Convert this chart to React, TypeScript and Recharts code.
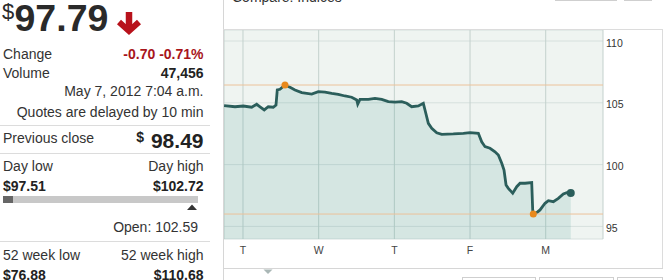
import React from 'react';
import { AreaChart, Area, XAxis, YAxis, CartesianGrid, ReferenceLine, ReferenceDot } from 'recharts';

const dayTicks = [1, 2, 3, 4, 5];
const dayLabels = ['T', 'W', 'T', 'F', 'M'];
const priceTicks = [95, 100, 105, 110];

const times = [
  0.75, 0.894, 1.004, 1.115, 1.181, 1.225, 1.281, 1.334, 1.4, 1.436,
  1.453, 1.489, 1.555, 1.621, 1.687, 1.776, 1.908, 1.995, 2.084, 2.172,
  2.259, 2.348, 2.436, 2.503, 2.516, 2.546, 2.656, 2.744, 2.833, 2.92,
  3.009, 3.097, 3.163, 3.229, 3.317, 3.383, 3.405, 3.449, 3.494, 3.56,
  3.626, 3.779, 3.911, 4.0, 4.11, 4.154, 4.198, 4.264, 4.33, 4.374,
  4.419, 4.449, 4.476, 4.506, 4.564, 4.617, 4.661, 4.727, 4.815, 4.828,
  4.836, 4.881, 4.925, 4.991, 5.035, 5.101, 5.167, 5.233, 5.278, 5.331,
];
const prices = [
  104.77, 104.68, 104.74, 104.64, 104.88, 104.68, 104.42, 104.68, 104.64, 104.82,
  106.04, 106.09, 106.44, 106.25, 106.04, 105.82, 105.71, 105.9, 105.87, 105.77,
  105.69, 105.55, 105.45, 105.23, 104.9, 105.28, 105.28, 105.36, 105.28, 105.09,
  105.06, 105.09, 104.96, 104.68, 104.74, 104.96, 104.42, 103.34, 102.94, 102.58,
  102.45, 102.48, 102.53, 102.58, 102.53, 101.85, 101.45, 101.32, 101.04, 100.78,
  100.11, 99.56, 98.35, 98.08, 97.68, 98.21, 98.49, 98.49, 98.54, 96.33,
  96.0, 96.11, 96.33, 96.87, 97.08, 97.0, 97.27, 97.62, 97.73, 97.7,
];

const rows = times.map((t, i) => ({ t, price: prices[i] }));
const maxP = Math.max(...prices);
const minP = Math.min(...prices);
const maxIdx = prices.indexOf(maxP);
const minIdx = prices.indexOf(minP);
const lastIdx = prices.length - 1;

const FONT = 'Arial, "Liberation Sans", sans-serif';

const YTick = (props: any) => {
  const { x, y, payload } = props;
  return (
    <text x={x} y={y} dy={5.5} fill="#333" fontSize={10.5} fontFamily={FONT} textAnchor="start">
      {payload.value}
    </text>
  );
};

const XTick = (props: any) => {
  const { x, y, payload } = props;
  const idx = dayTicks.indexOf(payload.value);
  return (
    <text x={x} y={y} dy={15} fill="#444" fontSize={10.5} fontFamily={FONT} textAnchor="middle">
      {dayLabels[idx]}
    </text>
  );
};

const Txt = (props: any) => {
  const { top, left = 0, width, align = 'left', size = 14, bold = false, color = '#333', lh = 16, children } = props;
  return (
    <div
      style={{
        position: 'absolute',
        top,
        left,
        width,
        textAlign: align,
        fontSize: size,
        fontWeight: bold ? 'bold' : 'normal',
        color,
        lineHeight: `${lh}px`,
        whiteSpace: 'nowrap',
        fontFamily: FONT,
      }}
    >
      {children}
    </div>
  );
};

const Line = (props: any) => (
  <div style={{ position: 'absolute', background: props.color || '#dcdcdc', left: props.left, top: props.top, width: props.width, height: props.height }} />
);

export default function App() {
  return (
    <div style={{ position: 'fixed', left: 0, top: 0, width: 669, height: 280, overflow: 'hidden', background: '#fff', fontFamily: FONT }}>
      {/* Left quote panel */}
      <Txt top={1} left={2} size={22} color="#2a2a2a" lh={22}>$</Txt>
      <Txt top={0} left={14.5} size={37.5} bold color="#2a2a2a" lh={36}>97.79</Txt>
      <svg style={{ position: 'absolute', left: 114, top: 10 }} width={30} height={26}>
        <line x1={15} y1={2} x2={15} y2={19} stroke="#b8121b" strokeWidth={6.5} />
        <polyline points="5,12 15,21 25,12" fill="none" stroke="#b8121b" strokeWidth={6} strokeLinejoin="miter" />
      </svg>

      <Txt top={45.5} left={3}>Change</Txt>
      <Txt top={45.5} left={0} width={203.5} align="right" bold color="#a8151b">-0.70 -0.71%</Txt>
      <Txt top={64.6} left={3}>Volume</Txt>
      <Txt top={64.6} left={0} width={203.5} align="right" bold color="#222">47,456</Txt>
      <Txt top={83.1} left={0} width={203.5} align="right">May 7, 2012 7:04 a.m.</Txt>
      <Txt top={103.6} left={0} width={203.5} align="right">Quotes are delayed by 10 min</Txt>
      <Line left={0} top={124.5} width={210} height={1} />

      <Txt top={129.8} left={3}>Previous close</Txt>
      <Txt top={129} left={0} width={144} align="right" bold color="#222">$</Txt>
      <Txt top={129} left={0} width={203.5} align="right" size={21} bold color="#222" lh={24}>98.49</Txt>
      <Line left={0} top={153} width={210} height={1} />

      <Txt top={158.1} left={3}>Day low</Txt>
      <Txt top={158.1} left={0} width={203.5} align="right">Day high</Txt>
      <Txt top={178.4} left={3} bold color="#222">$97.51</Txt>
      <Txt top={178.4} left={0} width={203.5} align="right" bold color="#222">$102.72</Txt>
      <Line left={3} top={196} width={195} height={7} color="#c8c8c8" />
      <Line left={3} top={196} width={10} height={7} color="#666" />
      <svg style={{ position: 'absolute', left: 186, top: 204 }} width={12} height={7}>
        <polygon points="1,6 6,0.5 11,6" fill="#333" />
      </svg>
      <Txt top={218.6} left={0} width={198} align="right">Open: 102.59</Txt>
      <Line left={0} top={240.5} width={210} height={1} />

      <Txt top={247.1} left={3}>52 week low</Txt>
      <Txt top={247.1} left={0} width={203.5} align="right">52 week high</Txt>
      <Txt top={266.6} left={3} bold color="#222">$76.88</Txt>
      <Txt top={266.6} left={0} width={203.5} align="right" bold color="#222">$110.68</Txt>

      {/* Chart panel chrome */}
      <Txt top={-11} left={232} color="#333">Compare: Indices</Txt>
      <div style={{ position: 'absolute', left: 555, top: -20, width: 62, height: 21, border: '1px solid #cfcfcf', boxSizing: 'border-box' }} />
      <div style={{ position: 'absolute', left: 624, top: -20, width: 28, height: 21, border: '1px solid #cfcfcf', boxSizing: 'border-box', background: '#f3f3f3' }} />
      <Line left={223} top={0} width={1} height={280} color="#d6d6d6" />
      <Line left={223} top={29} width={440} height={1} color="#dcdcdc" />
      <Line left={662} top={29} width={1} height={240} color="#dcdcdc" />
      <Line left={223} top={268} width={440} height={1} color="#d6d6d6" />
      <svg style={{ position: 'absolute', left: 263, top: 269 }} width={10} height={6}>
        <polygon points="0.5,0.5 9.5,0.5 5,5" fill="#aab7b6" />
      </svg>
      <div style={{ position: 'absolute', left: 462, top: 277, width: 74, height: 20, border: '1px solid #cfcfcf', boxSizing: 'border-box' }} />
      <div style={{ position: 'absolute', left: 539, top: 277, width: 75, height: 20, border: '1px solid #cfcfcf', boxSizing: 'border-box' }} />
      <div style={{ position: 'absolute', left: 617, top: 277, width: 46, height: 20, border: '1px solid #cfcfcf', boxSizing: 'border-box' }} />

      <div style={{ position: 'absolute', left: 224, top: 30 }}>
        <AreaChart width={438} height={238} data={rows} margin={{ top: 0, right: 0, bottom: 0, left: 0 }}>
          <CartesianGrid vertical={false} stroke="#d6e0dd" fill="#eff4f1" />
          <CartesianGrid horizontal={false} stroke="#c3d1cd" />
          <XAxis
            dataKey="t"
            type="number"
            domain={[0.749, 5.757]}
            ticks={dayTicks}
            allowDataOverflow
            axisLine={false}
            tickLine={false}
            tickSize={0}
            tickMargin={0}
            height={29}
            tick={<XTick />}
            interval={0}
          />
          <YAxis
            orientation="right"
            type="number"
            domain={[93.98, 110.89]}
            ticks={priceTicks}
            allowDataOverflow
            axisLine={false}
            tickLine={false}
            tickSize={0}
            tickMargin={3}
            width={59}
            tick={<YTick />}
            interval={0}
          />
          <Area
            type="linear"
            dataKey="price"
            stroke="#2b5e5b"
            strokeWidth={2.8}
            fill="#2a8a85"
            fillOpacity={0.13}
            dot={false}
            activeDot={false}
            isAnimationActive={false}
          />
          <ReferenceLine y={maxP} stroke="#ecc29a" strokeWidth={1} />
          <ReferenceLine y={minP} stroke="#ecc29a" strokeWidth={1} />
          <ReferenceDot x={times[maxIdx]} y={maxP} r={3.5} fill="#e8891c" stroke="none" />
          <ReferenceDot x={times[minIdx]} y={minP} r={3.5} fill="#e8891c" stroke="none" />
          <ReferenceDot x={times[lastIdx]} y={prices[lastIdx]} r={4} fill="#2b5e5b" stroke="none" />
        </AreaChart>
      </div>
    </div>
  );
}
